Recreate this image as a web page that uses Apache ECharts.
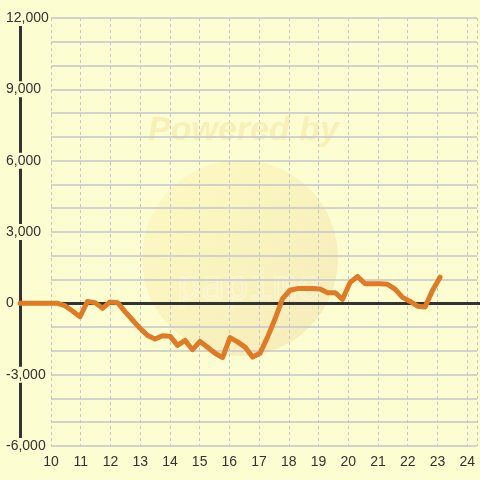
<!DOCTYPE html>
<html>
<head>
<meta charset="utf-8">
<script src="https://cdn.jsdelivr.net/npm/echarts@6/dist/echarts.min.js"></script>
<style>
  html, body { margin: 0; padding: 0; background: #fdfdd2; }
  #main { width: 480px; height: 480px; }
</style>
</head>
<body>
<div id="main"></div>
<script>
// hour of day (quarter steps) and running value
const hours = [
  9, 9.25, 9.5, 9.75, 10, 10.25, 10.5, 10.75, 11, 11.25, 11.5, 11.75,
  12, 12.25, 12.5, 12.75, 13, 13.25, 13.5, 13.75, 14, 14.25, 14.5, 14.75,
  15, 15.25, 15.5, 15.75, 16, 16.25, 16.5, 16.75, 17, 17.25, 17.5, 17.75,
  18, 18.25, 18.5, 18.75, 19, 19.25, 19.5, 19.75, 20, 20.25, 20.5, 20.75,
  21, 21.25, 21.5, 21.75, 22, 22.25, 22.5, 22.75, 23
]
const values = [
  0, 0, 0, 0, 0, 0, -100, -320, -560, 80, 30, -210,
  60, 30, -350, -700, -1050, -1350, -1500, -1360, -1380, -1770, -1560, -1950,
  -1600, -1850, -2100, -2280, -1440, -1620, -1840, -2260, -2100, -1420, -650, 200,
  550, 620, 620, 620, 600, 450, 450, 170, 880, 1130, 820, 820,
  820, 800, 600, 250, 80, -120, -150, 550, 1100
]
const yTicks = [-6000, 12000, 3000]   // min, max, label step
const xRange = [10, 24.33]

const chart = echarts.init(document.getElementById('main'))
const txt = '#333333'
const bg = '#fdfdd2'
const gridCol = '#c4c4cc'

const option = {
  backgroundColor: bg,
  animation: false,
  textStyle: { fontFamily: 'Liberation Sans, Arial, sans-serif' },
  graphic: [
    {
      type: 'circle', z: -10, silent: true,
      shape: { cx: 240, cy: 258, r: 98 },
      style: {
        fill: new echarts.graphic.LinearGradient(0, 0, 1, 1, [
          { offset: 0, color: 'rgba(255,246,180,0.55)' },
          { offset: 1, color: 'rgba(238,225,170,0.6)' }
        ])
      }
    },
    {
      type: 'text', z: -10, silent: true,
      left: 148, top: 114,
      style: {
        text: 'Powered by',
        font: 'italic bold 34px Liberation Sans, Arial, sans-serif',
        fill: 'rgba(240,225,150,0.45)'
      }
    },
    {
      type: 'text', z: -10, silent: true,
      left: 176, top: 268,
      style: {
        text: 'papimo',
        font: '40px DejaVu Sans Mono, monospace',
        fill: 'rgba(0,0,0,0)',
        stroke: 'rgba(255,255,255,0.4)',
        lineWidth: 1.2
      }
    }
  ],
  grid: [
    { left: 51, right: 0, top: 18, bottom: 34 },
    { left: 20, right: 0, top: 18, bottom: 34 }
  ],
  xAxis: [
    {
      type: 'value', gridIndex: 0,
      min: xRange[0], max: xRange[1], interval: 1,
      axisLine: { show: false },
      axisTick: { show: false },
      axisLabel: {
        color: txt, fontSize: 14, margin: 9,
        formatter: v => (Number.isInteger(v) ? String(v) : '')
      },
      splitLine: { show: true, lineStyle: { color: [gridCol, gridCol], type: [3, 3], width: 1 } }
    },
    {
      type: 'value', gridIndex: 1,
      min: 9, max: xRange[1],
      axisLine: { show: true, onZero: true, lineStyle: { color: txt, width: 3 } },
      axisTick: { show: false },
      axisLabel: { show: false },
      splitLine: { show: false }
    }
  ],
  yAxis: [
    {
      type: 'value', gridIndex: 0,
      min: yTicks[0], max: yTicks[1], interval: 1000,
      axisLine: { show: false },
      axisTick: { show: false },
      axisLabel: { show: false },
      splitLine: { show: true, lineStyle: { color: [gridCol, gridCol], width: 1.5 } }
    },
    {
      type: 'value', gridIndex: 1,
      min: yTicks[0], max: yTicks[1], interval: yTicks[2],
      axisLine: { show: true, lineStyle: { color: txt, width: 3 } },
      axisTick: { show: false },
      axisLabel: {
        color: txt, fontSize: 14, align: 'left', margin: 14,
        backgroundColor: bg, padding: [1, 0],
        formatter: v => v.toLocaleString('en-US')
      },
      splitLine: { show: false }
    }
  ],
  series: [
    {
      type: 'line',
      xAxisIndex: 1, yAxisIndex: 1,
      data: hours.map((h, i) => [h, values[i]]),
      symbol: 'none',
      lineStyle: { color: '#e07a24', width: 5, join: 'round', cap: 'round' },
      z: 5
    }
  ]
}

chart.setOption(option)
</script>
</body>
</html>
